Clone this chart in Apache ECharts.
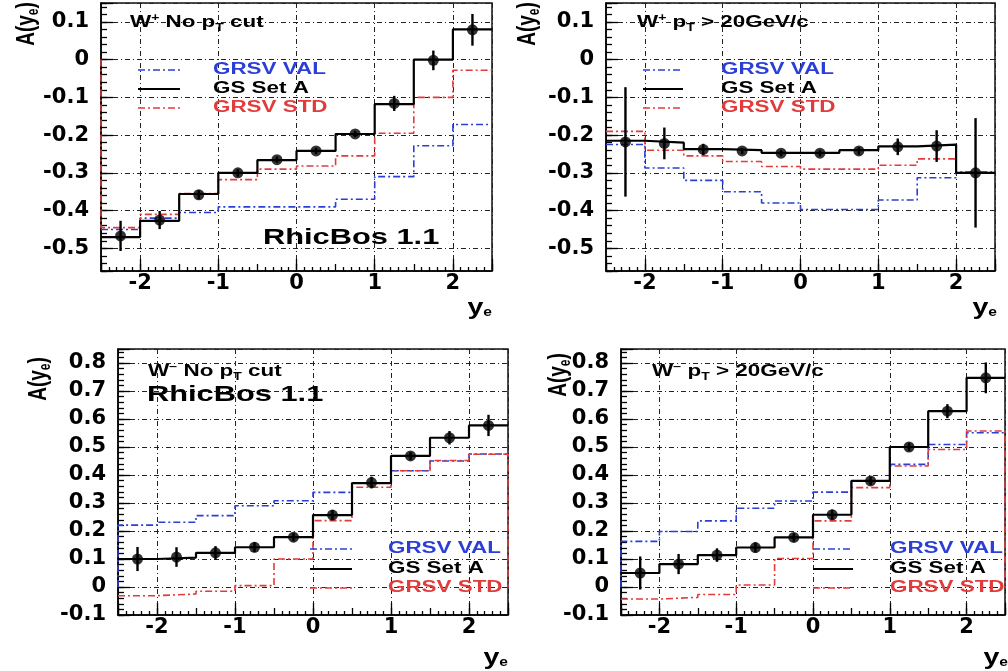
<!DOCTYPE html>
<html><head><meta charset="utf-8">
<script src="https://cdn.jsdelivr.net/npm/echarts@6/dist/echarts.min.js"></script>
<style>html,body{margin:0;padding:0;background:#fff}#c{width:1008px;height:671px}</style>
</head><body><div id="c"></div>
<script>
// ---------- data ----------
const binEdges   = [-2.5, -2, -1.5, -1, -0.5, 0, 0.5, 1, 1.5, 2, 2.5];
const binCenters = [-2.25, -1.75, -1.25, -0.75, -0.25, 0.25, 0.75, 1.25, 1.75, 2.25];
const seriesNames = ['GRSV VAL', 'GS Set A', 'GRSV STD'];

// Panel 1: W+ , no pT cut
const p1Val = [-0.45, -0.42, -0.405, -0.39, -0.39, -0.39, -0.37, -0.31, -0.228, -0.172];
const p1GS  = [-0.47, -0.427, -0.356, -0.30, -0.266, -0.242, -0.197, -0.118, 0.0, 0.08];
const p1Std = [-0.445, -0.41, -0.355, -0.318, -0.29, -0.282, -0.255, -0.195, -0.10, -0.028];
const p1Pts = [-0.467, -0.425, -0.358, -0.30, -0.265, -0.242, -0.197, -0.116, -0.002, 0.079];
const p1Err = [0.04, 0.024, 0.012, 0.01, 0.008, 0.008, 0.008, 0.02, 0.026, 0.042];

// Panel 2: W+ , pT > 20 GeV/c
const p2Val = [-0.225, -0.287, -0.32, -0.35, -0.38, -0.397, -0.397, -0.372, -0.313, -0.30];
const p2GS  = [-0.215, -0.22, -0.237, -0.24, -0.247, -0.247, -0.24, -0.23, -0.225, -0.30];
const p2Std = [-0.19, -0.24, -0.255, -0.27, -0.283, -0.29, -0.29, -0.28, -0.263, -0.297];
const p2Pts = [-0.218, -0.222, -0.238, -0.242, -0.248, -0.248, -0.242, -0.231, -0.229, -0.30];
const p2Err = [0.145, 0.042, 0.015, 0.008, 0.008, 0.008, 0.01, 0.022, 0.042, 0.145];

// Panel 3: W- , no pT cut
const p3Val = [0.221, 0.231, 0.255, 0.29, 0.308, 0.338, 0.371, 0.415, 0.45, 0.475];
const p3GS  = [0.10, 0.105, 0.122, 0.142, 0.178, 0.257, 0.371, 0.468, 0.533, 0.577];
const p3Std = [-0.031, -0.025, -0.015, 0.005, 0.10, 0.237, 0.356, 0.415, 0.452, 0.474];
const p3Pts = [0.10, 0.107, 0.122, 0.142, 0.178, 0.257, 0.373, 0.468, 0.533, 0.577];
const p3Err = [0.043, 0.035, 0.024, 0.018, 0.015, 0.018, 0.021, 0.014, 0.024, 0.038];

// Panel 4: W- , pT > 20 GeV/c
const p4Val = [0.163, 0.198, 0.236, 0.281, 0.307, 0.339, 0.379, 0.438, 0.509, 0.551];
const p4GS  = [0.05, 0.082, 0.114, 0.141, 0.177, 0.258, 0.379, 0.50, 0.628, 0.747];
const p4Std = [-0.043, -0.037, -0.027, 0.007, 0.102, 0.236, 0.355, 0.432, 0.491, 0.557];
const p4Pts = [0.05, 0.082, 0.114, 0.141, 0.177, 0.258, 0.379, 0.50, 0.628, 0.747];
const p4Err = [0.059, 0.036, 0.024, 0.018, 0.015, 0.018, 0.015, 0.015, 0.025, 0.055];

// ---------- styles ----------
const BLUE = '#2b3fd6', RED = '#e23b3b', BLACK = '#000';
const DASH = [7, 3, 2, 3];
const GRIDDASH = [5, 3, 1, 3];
const ANN = 'Liberation Sans';
const TICKFONT = 'DejaVu Sans';

const panels = [
  { val: p1Val, gs: p1GS, std: p1Std, pts: p1Pts, err: p1Err, closeVal: [false,false], closeStd: [true,false],
    grid: {left: 101, top: 3, width: 391, height: 268}, ymin: -0.56, ymax: 0.15 },
  { val: p2Val, gs: p2GS, std: p2Std, pts: p2Pts, err: p2Err, closeVal: [false,false], closeStd: [false,false],
    grid: {left: 606, top: 3, width: 389, height: 268}, ymin: -0.56, ymax: 0.15 },
  { val: p3Val, gs: p3GS, std: p3Std, pts: p3Pts, err: p3Err, closeVal: [true,false], closeStd: [false,true],
    grid: {left: 118, top: 349, width: 390, height: 266}, ymin: -0.1, ymax: 0.85 },
  { val: p4Val, gs: p4GS, std: p4Std, pts: p4Pts, err: p4Err, closeVal: [true,false], closeStd: [false,true],
    grid: {left: 621, top: 349, width: 390, height: 266}, ymin: -0.1, ymax: 0.85 }
];

function steps(vals, close) {
  const out = [];
  if (close[0]) out.push([binEdges[0], 0]);
  vals.forEach((v, i) => { out.push([binEdges[i], v]); out.push([binEdges[i + 1], v]); });
  if (close[1]) out.push([binEdges[binEdges.length - 1], 0]);
  return out;
}
function xFmt(v) { return Math.abs(v - Math.round(v)) < 1e-6 ? String(Math.round(v) || 0) : ''; }
function yFmt(v) {
  const k = Math.round(v * 10);
  if (Math.abs(v * 10 - k) > 1e-6) return '';
  return k === 0 ? '0' : (k / 10).toFixed(1);
}

const grids = [], xAxes = [], yAxes = [], series = [];
panels.forEach((p, i) => {
  grids.push(Object.assign({ show: true, borderColor: '#111', borderWidth: 1.5, containLabel: false }, p.grid));
  xAxes.push({ type: 'value', gridIndex: i, min: -2.5, max: 2.5, interval: 0.5, position: 'bottom',
    axisLine: { show: true, onZero: false, lineStyle: { color: BLACK, width: 1.5 } },
    axisTick: { show: true, inside: true, length: 7, lineStyle: { color: BLACK, width: 1.3 } },
    minorTick: { show: true, splitNumber: 5, length: 4, lineStyle: { color: BLACK, width: 1.3 } },
    splitLine: { show: false },
    axisLabel: { formatter: xFmt, color: BLACK, fontFamily: TICKFONT, fontWeight: 'bold', fontSize: 21, margin: 2 } });
  xAxes.push({ type: 'value', gridIndex: i, min: -2.5, max: 2.5, minInterval: 1, maxInterval: 1, position: 'bottom',
    axisLine: { show: false, onZero: false },
    axisTick: { show: true, inside: true, length: 12, lineStyle: { color: BLACK, width: 1.3 } },
    axisLabel: { show: false },
    splitLine: { show: true, lineStyle: { color: '#222', width: 1, type: GRIDDASH } } });
  yAxes.push({ type: 'value', gridIndex: i, min: p.ymin, max: p.ymax, interval: 0.02, position: 'left',
    axisLine: { show: true, onZero: false, lineStyle: { color: BLACK, width: 1.5 } },
    axisTick: { show: true, inside: true, length: 6, lineStyle: { color: BLACK, width: 1.3 } },
    splitLine: { show: false },
    axisLabel: { formatter: yFmt, color: BLACK, fontFamily: TICKFONT, fontWeight: 'bold', fontSize: 21, margin: 12 } });
  yAxes.push({ type: 'value', gridIndex: i, min: p.ymin, max: p.ymax, minInterval: 0.1, maxInterval: 0.1, position: 'left',
    axisLine: { show: false, onZero: false },
    axisTick: { show: true, inside: true, length: 12, lineStyle: { color: BLACK, width: 1.3 } },
    axisLabel: { show: false },
    splitLine: { show: true, lineStyle: { color: '#222', width: 1, type: GRIDDASH } } });

  const xi = 2 * i, yi = 2 * i;
  series.push({ name: seriesNames[0], type: 'line', xAxisIndex: xi, yAxisIndex: yi, data: steps(p.val, p.closeVal),
    symbol: 'none', lineStyle: { color: BLUE, width: 1.6, type: DASH }, z: 2 });
  series.push({ name: seriesNames[2], type: 'line', xAxisIndex: xi, yAxisIndex: yi, data: steps(p.std, p.closeStd),
    symbol: 'none', lineStyle: { color: RED, width: 1.6, type: DASH }, z: 3 });
  series.push({ name: seriesNames[1], type: 'line', xAxisIndex: xi, yAxisIndex: yi, data: steps(p.gs, [false, false]),
    symbol: 'none', lineStyle: { color: BLACK, width: 2.2 }, z: 4 });
  series.push({ name: 'err' + i, type: 'custom', xAxisIndex: xi, yAxisIndex: yi, z: 5,
    data: binCenters.map((c, k) => [c, p.pts[k] - p.err[k], p.pts[k] + p.err[k]]),
    encode: { x: 0, y: [1, 2] },
    renderItem: (params, api) => {
      const a = api.coord([api.value(0), api.value(1)]);
      const b = api.coord([api.value(0), api.value(2)]);
      return { type: 'line', shape: { x1: a[0], y1: a[1], x2: b[0], y2: b[1] }, style: { stroke: BLACK, lineWidth: 2.4 } };
    } });
  series.push({ name: 'data' + i, type: 'scatter', xAxisIndex: xi, yAxisIndex: yi, z: 6,
    data: binCenters.map((c, k) => [c, p.pts[k]]), symbol: 'circle', symbolSize: 11, itemStyle: { color: BLACK } });
});

// ---------- annotations ----------
function tok(size, extra) { return Object.assign({ fontFamily: ANN, fontWeight: 'bold', fontSize: size, fill: BLACK }, extra || {}); }
const richBase = {
  n: tok(16, { lineHeight: 20 }),
  sup: tok(10, { lineHeight: 10, verticalAlign: 'top' }),
  sub: tok(10, { lineHeight: 8, verticalAlign: 'bottom' })
};
function txt(x, y, text, opt) {
  opt = opt || {};
  return { type: 'text', x: x, y: y, z: 100, scaleX: opt.sx || 1.4, scaleY: opt.sy || 1, rotation: opt.rot || 0,
    style: { text: text, fill: opt.color || BLACK, fontFamily: ANN, fontWeight: 'bold', fontSize: opt.size || 16,
      align: opt.align || 'left', verticalAlign: 'middle', rich: opt.rich } };
}
function legend(x0, x1, xt, ys) {
  const items = [
    { name: seriesNames[0], color: BLUE, dash: DASH, w: 1.6 },
    { name: seriesNames[1], color: BLACK, dash: null, w: 2.2 },
    { name: seriesNames[2], color: RED, dash: DASH, w: 1.6 }
  ];
  const out = [];
  items.forEach((it, k) => {
    out.push({ type: 'line', z: 100, shape: { x1: x0, y1: ys[k], x2: x1, y2: ys[k] },
      style: { stroke: it.color, lineWidth: it.w, lineDash: it.dash } });
    out.push(txt(xt, ys[k], it.name, { color: it.color }));
  });
  return out;
}
const yTitle = '{n|A(y}{sub|e}{n|)}';
const xTitle = '{b|y}{s|e}';
const xTitleRich = { b: tok(22, { lineHeight: 22 }), s: tok(12, { lineHeight: 10, verticalAlign: 'bottom' }) };
const yTitleRich = { n: tok(19, { lineHeight: 22 }), sub: tok(12, { lineHeight: 8, verticalAlign: 'bottom' }) };
const yT = (x, y) => txt(x, y, yTitle, { rich: yTitleRich, rot: Math.PI / 2, sx: 1, sy: 1.35, align: 'center' });

const graphics = [].concat(
  [txt(130, 23, '{n|W}{sup|+}{n| No p}{sub|T}{n| cut}', { rich: richBase }),
   txt(637, 23, '{n|W}{sup|+}{n| p}{sub|T}{n| > 20GeV/c}', { rich: richBase }),
   txt(148, 372, '{n|W}{sup|\u2212}{n| No p}{sub|T}{n| cut}', { rich: richBase }),
   txt(652, 372, '{n|W}{sup|\u2212}{n| p}{sub|T}{n| > 20GeV/c}', { rich: richBase }),
   txt(263, 238, 'RhicBos 1.1', { size: 22 }),
   txt(147, 395, 'RhicBos 1.1', { size: 22 }),
   yT(27, 24), yT(528, 24), yT(39, 379), yT(559, 375),
   txt(492, 308, xTitle, { rich: xTitleRich, align: 'right', sx: 1.3 }),
   txt(997, 308, xTitle, { rich: xTitleRich, align: 'right', sx: 1.3 }),
   txt(508, 658, xTitle, { rich: xTitleRich, align: 'right', sx: 1.3 }),
   txt(1008, 658, xTitle, { rich: xTitleRich, align: 'right', sx: 1.3 })],
  legend(138, 180, 213, [70, 89, 108]),
  legend(643, 683, 721, [70, 89, 108]),
  legend(310, 352, 388, [549, 569, 588]),
  legend(813, 853, 890, [549, 569, 588])
);

const chart = echarts.init(document.getElementById('c'), null, { renderer: 'canvas' });
chart.setOption({
  animation: false,
  backgroundColor: '#fff',
  grid: grids, xAxis: xAxes, yAxis: yAxes, series: series,
  graphic: graphics
});
</script>
</body></html>
